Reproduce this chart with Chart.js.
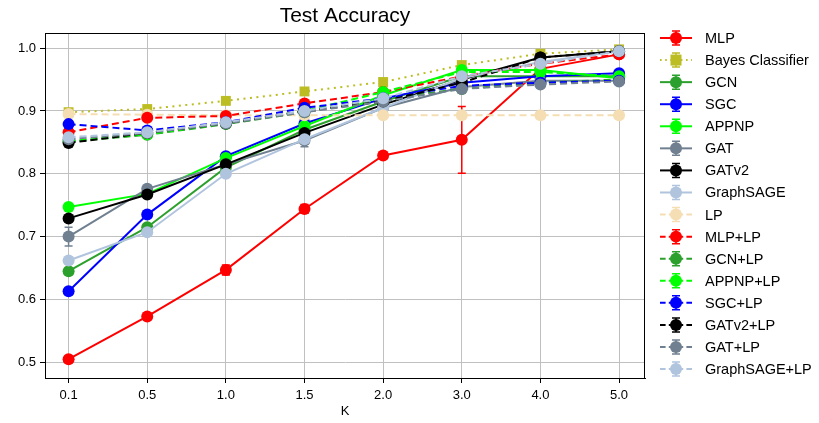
<!DOCTYPE html>
<html>
<head>
<meta charset="utf-8">
<script src="https://cdn.jsdelivr.net/npm/chart.js@4"></script>
<style>
  html, body { margin: 0; padding: 0; background: #fff; }
  #wrap { width: 819px; height: 423px; position: relative; }
</style>
</head>
<body>
<div id="wrap"><canvas id="chart"></canvas></div>
<script>
// K values on the x axis (drawn at equal spacing)
const kLabels = ['0.1', '0.5', '1.0', '1.5', '2.0', '3.0', '4.0', '5.0'];

// series values
const mlp        = [0.505, 0.573, 0.647, 0.744, 0.829, 0.854, 0.967, 0.990];
const mlpErr     = [0.004, 0.004, 0.008, 0.007, 0.005, 0.053, 0.006, 0.004];
const bayes      = [0.898, 0.903, 0.916, 0.931, 0.946, 0.973, 0.991, 0.998];
const gcn        = [0.645, 0.715, 0.810, 0.870, 0.915, 0.955, 0.955, 0.955];
const sgc        = [0.613, 0.735, 0.828, 0.880, 0.920, 0.945, 0.955, 0.960];
const appnp      = [0.747, 0.768, 0.825, 0.876, 0.925, 0.965, 0.965, 0.952];
const gat        = [0.700, 0.776, 0.815, 0.853, 0.905, 0.938, 0.948, 0.948];
const gatErr     = [0.015, 0.004, 0.004, 0.010, 0.005, 0.004, 0.004, 0.004];
const gatv2      = [0.729, 0.767, 0.815, 0.865, 0.910, 0.950, 0.985, 0.995];
const graphsage  = [0.662, 0.707, 0.800, 0.855, 0.905, 0.952, 0.978, 0.995];
const lp         = [0.895, 0.894, 0.893, 0.893, 0.893, 0.893, 0.893, 0.893];
const mlpLp      = [0.866, 0.889, 0.892, 0.912, 0.930, 0.955, 0.975, 0.990];
const gcnLp      = [0.851, 0.862, 0.879, 0.898, 0.920, 0.935, 0.945, 0.950];
const appnpLp    = [0.852, 0.863, 0.880, 0.900, 0.930, 0.962, 0.962, 0.955];
const sgcLp      = [0.879, 0.869, 0.882, 0.905, 0.920, 0.940, 0.945, 0.948];
const gatv2Lp    = [0.849, 0.865, 0.880, 0.900, 0.915, 0.945, 0.985, 0.995];
const gatLp      = [0.855, 0.865, 0.880, 0.898, 0.915, 0.935, 0.942, 0.947];
const graphsageLp= [0.858, 0.866, 0.882, 0.900, 0.920, 0.955, 0.975, 0.995];
const smallErr   = [0.003, 0.003, 0.003, 0.003, 0.003, 0.003, 0.003, 0.003];

const SOLID = [], DASH = [7, 4], DOT = [2, 4.5];

function series(label, values, errs, color, dash, marker) {
  return {
    label: label,
    data: values.map((v, i) => ({ x: i, y: v })),
    errors: errs,
    borderColor: color,
    backgroundColor: color,
    pointBackgroundColor: color,
    pointBorderWidth: 0,
    pointRadius: marker === 'rect' ? 7 : 6,
    pointStyle: marker || 'circle',
    borderWidth: 2,
    borderDash: dash,
    tension: 0
  };
}

const datasets = [
  series('MLP', mlp, mlpErr, '#ff0000', SOLID),
  series('Bayes Classifier', bayes, smallErr, '#bcbd22', DOT, 'rect'),
  series('GCN', gcn, smallErr, '#2ca02c', SOLID),
  series('SGC', sgc, smallErr, '#0000ff', SOLID),
  series('APPNP', appnp, smallErr, '#00ff00', SOLID),
  series('GAT', gat, gatErr, '#708090', SOLID),
  series('GATv2', gatv2, smallErr, '#000000', SOLID),
  series('GraphSAGE', graphsage, smallErr, '#b0c4de', SOLID),
  series('LP', lp, smallErr, '#f5deb3', DASH),
  series('MLP+LP', mlpLp, smallErr, '#ff0000', DASH),
  series('GCN+LP', gcnLp, smallErr, '#2ca02c', DASH),
  series('APPNP+LP', appnpLp, smallErr, '#00ff00', DASH),
  series('SGC+LP', sgcLp, smallErr, '#0000ff', DASH),
  series('GATv2+LP', gatv2Lp, smallErr, '#000000', DASH),
  series('GAT+LP', gatLp, smallErr, '#708090', DASH),
  series('GraphSAGE+LP', graphsageLp, smallErr, '#b0c4de', DASH)
];
// later series on top, like matplotlib
datasets.forEach((d, i) => { d.order = datasets.length - i; });

const FONT = '"Liberation Sans", Arial, sans-serif';

const errorBars = {
  id: 'errorBars',
  afterDatasetDraw(chart, args) {
    const ds = chart.data.datasets[args.index];
    if (!ds.errors) return;
    const ctx = chart.ctx, x = chart.scales.x, y = chart.scales.y;
    ctx.save();
    ctx.strokeStyle = ds.borderColor;
    ctx.lineWidth = 1.5;
    ctx.setLineDash([]);
    ds.data.forEach((p, i) => {
      const e = ds.errors[i];
      const px = x.getPixelForValue(p.x);
      const top = y.getPixelForValue(p.y + e), bot = y.getPixelForValue(p.y - e);
      ctx.beginPath();
      ctx.moveTo(px, top); ctx.lineTo(px, bot);
      ctx.moveTo(px - 4, top); ctx.lineTo(px + 4, top);
      ctx.moveTo(px - 4, bot); ctx.lineTo(px + 4, bot);
      ctx.stroke();
    });
    ctx.restore();
  }
};

const frameAndLegend = {
  id: 'frameAndLegend',
  afterDraw(chart) {
    const ctx = chart.ctx, a = chart.chartArea;
    ctx.save();
    ctx.strokeStyle = '#000';
    ctx.lineWidth = 1;
    ctx.setLineDash([]);
    ctx.strokeRect(a.left + 0.5, a.top + 0.5, a.right - a.left - 1, a.bottom - a.top);

    // title
    ctx.fillStyle = '#000';
    ctx.font = '21px ' + FONT;
    ctx.textAlign = 'center';
    ctx.textBaseline = 'middle';
    ctx.fillText('Test Accuracy', (a.left + a.right) / 2, 16);

    // legend
    ctx.font = '14.5px ' + FONT;
    ctx.textAlign = 'left';
    chart.data.datasets.forEach((ds, i) => {
      const yy = 38 + i * 22.07;
      const x0 = 660, x1 = 692, xm = 676;
      ctx.strokeStyle = ds.borderColor;
      ctx.fillStyle = ds.borderColor;
      ctx.lineWidth = 2;
      ctx.setLineDash(ds.borderDash.length ? ds.borderDash.map(v => v * 0.8) : []);
      ctx.beginPath(); ctx.moveTo(x0, yy); ctx.lineTo(x1, yy); ctx.stroke();
      ctx.setLineDash([]);
      ctx.lineWidth = 1.5;
      ctx.beginPath();
      ctx.moveTo(xm, yy - 7); ctx.lineTo(xm, yy + 7);
      ctx.moveTo(xm - 4, yy - 7); ctx.lineTo(xm + 4, yy - 7);
      ctx.moveTo(xm - 4, yy + 7); ctx.lineTo(xm + 4, yy + 7);
      ctx.stroke();
      if (ds.pointStyle === 'rect') {
        ctx.fillRect(xm - 5.5, yy - 5.5, 11, 11);
      } else {
        ctx.beginPath(); ctx.arc(xm, yy, 6, 0, Math.PI * 2); ctx.fill();
      }
      ctx.fillStyle = '#000';
      ctx.fillText(ds.label, 705, yy + 1);
    });
    ctx.restore();
  }
};

new Chart(document.getElementById('chart'), {
  type: 'line',
  data: { datasets: datasets },
  plugins: [errorBars, frameAndLegend],
  options: {
    responsive: true,
    maintainAspectRatio: false,
    animation: false,
    layout: { padding: { left: 0, right: 174, top: 33, bottom: 0 } },
    plugins: { legend: { display: false }, title: { display: false }, tooltip: { enabled: false } },
    scales: {
      x: {
        type: 'linear',
        min: -0.3,
        max: 7.33,
        afterBuildTicks(scale) {
          scale.ticks = kLabels.map((_, i) => ({ value: i }));
        },
        afterFit(scale) { scale.height = 45; },
        ticks: {
          callback: (v) => kLabels[v],
          color: '#000',
          font: { family: FONT, size: 13 },
          padding: 5,
          maxRotation: 0
        },
        grid: { color: '#c0c0c0', lineWidth: 1, tickLength: 5, tickColor: '#000' },
        border: { color: '#000', width: 1 },
        title: { display: true, text: 'K', color: '#000', font: { family: FONT, size: 13 }, padding: { top: 0 } }
      },
      y: {
        min: 0.475,
        max: 1.024,
        afterBuildTicks(scale) {
          scale.ticks = [0.5, 0.6, 0.7, 0.8, 0.9, 1.0].map(v => ({ value: v }));
        },
        afterFit(scale) { scale.width = 45; },
        ticks: {
          callback: (v) => v.toFixed(1),
          color: '#000',
          font: { family: FONT, size: 13 },
          padding: 4
        },
        grid: { color: '#c0c0c0', lineWidth: 1, tickLength: 5, tickColor: '#000' },
        border: { color: '#000', width: 1 }
      }
    }
  }
});
</script>
</body>
</html>
